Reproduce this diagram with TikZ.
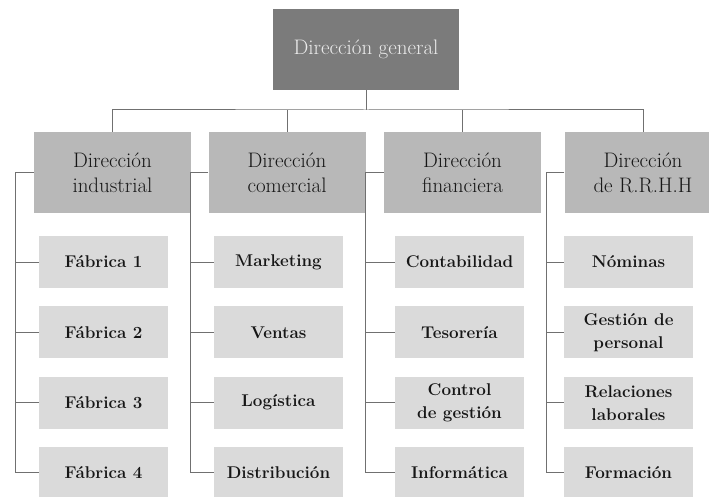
\documentclass[tikz,border=0pt]{standalone}
\usepackage{xcolor}
\usepackage{tikz}
\usetikzlibrary{positioning,calc}
\definecolor{topgray}{RGB}{123,123,123}
\definecolor{dirgray}{RGB}{184,184,184}
\definecolor{subgray}{RGB}{218,218,218}
\definecolor{linegray}{RGB}{112,112,112}
\definecolor{txtgray}{RGB}{22,22,22}

\begin{document}
\begin{tikzpicture}[x=1pt,y=-1pt]
\useasboundingbox (0,0) rectangle (709,497);

\tikzset{gen/.style={fill=topgray,text=white!92!black,minimum width=186pt,minimum height=81pt,inner sep=0pt,font=\fontsize{21}{25}\selectfont},
dir/.style={fill=dirgray,text=txtgray,minimum width=157pt,minimum height=81pt,inner sep=0pt,align=center,font=\fontsize{21}{25}\selectfont},
sub/.style={fill=subgray,text=txtgray,minimum width=129pt,minimum height=52pt,inner sep=0pt,align=center,font=\fontsize{17}{23}\bfseries},
link/.style={draw=linegray,line width=1pt}}

% top
\node[gen](gen) at (366,49.5) {Dirección general};

% second level
\node[dir](ind) at (112.5,172.5) {Dirección\\industrial};
\node[dir](com) at (287,172.5) {Dirección\\comercial};
\node[dir](fin) at (462.5,172.5) {Dirección\\financiera};
\node[dir](rh) at (643,172.5) {Dirección\\de R.R.H.H};

% third level
\foreach \t [count=\i] in {Fábrica 1,Fábrica 2,Fábrica 3,Fábrica 4}
  \node[sub](ind\i) at (103.5,{262+70.33*(\i-1)}) {\t};
\foreach \t [count=\i] in {Marketing,Ventas,Logística,Distribución}
  \node[sub](com\i) at (278.5,{262+70.33*(\i-1)}) {\t};
\foreach \t [count=\i] in {Contabilidad,Tesorería,{Control\\de gestión},Informática}
  \node[sub](fin\i) at (459.5,{262+70.33*(\i-1)}) {\t};
\foreach \t [count=\i] in {Nóminas,{Gestión de\\personal},{Relaciones\\laborales},Formación}
  \node[sub](rh\i) at (628.5,{262+70.33*(\i-1)}) {\t};

% links to the top
\coordinate (bar) at (366,110);
\draw[link] (gen.south) -- (bar);
\draw[link] (ind.north) |- (bar) -| (rh.north);
\draw[link] (com.north) -- (com.north |- bar);
\draw[link] (fin.north) -- (fin.north |- bar);

% brackets
\coordinate (bind) at (15,172.5);
\coordinate (bcom) at (190,172.5);
\coordinate (bfin) at (365,172.5);
\coordinate (brh) at (546,172.5);
\foreach \c in {ind,com,fin,rh}{
  \draw[link] (\c.west) -- (b\c) |- (\c4.west);
  \foreach \i in {1,2,3}
    \draw[link] (\c\i.west) -- (b\c |- \c\i.west);
}
\end{tikzpicture}
\end{document}
